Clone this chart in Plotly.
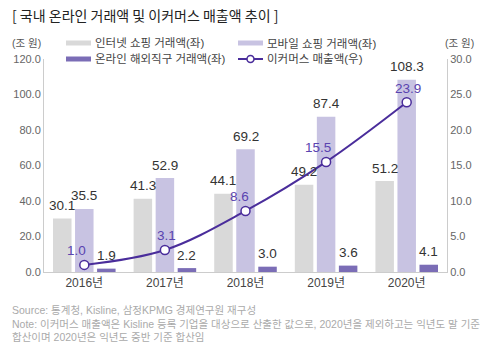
import plotly.graph_objects as go

years = ["2016년", "2017년", "2018년", "2019년", "2020년"]
internet = [30.1, 41.3, 44.1, 49.2, 51.2]
mobile = [35.5, 52.9, 69.2, 87.4, 108.3]
overseas = [1.9, 2.2, 3.0, 3.6, 4.1]
ecommerce = [1.0, 3.1, 8.6, 15.5, 23.9]

names = ["인터넷 쇼핑 거래액(좌)", "모바일 쇼핑 거래액(좌)", "온라인 해외직구 거래액(좌)", "이커머스 매출액(우)"]
left_ticks = [0, 20, 40, 60, 80, 100, 120]
right_ticks = [0, 5, 10, 15, 20, 25, 30]

c_int = "#d9d9d9"
c_mob = "#c8c3e2"
c_ovs = "#7b6db6"
c_line = "#4a2d9b"
FONT = "Liberation Sans, Noto Sans CJK KR"
KFONT = "Noto Sans CJK KR"

W, H = 483, 347
ML, MR, MT, MB = 44, 36, 59, 75
PW, PH = W - ML - MR, H - MT - MB
BARGAP = 0.18


def px(x):
    return (x - ML) / PW


def py(y):
    return (H - MB - y) / PH


fig = go.Figure()
series = [(internet, c_int, names[0]), (mobile, c_mob, names[1]), (overseas, c_ovs, names[2])]
slot = PW / len(years) * (1 - BARGAP) / len(series)
for k, (vals, col, nm) in enumerate(series):
    fig.add_trace(go.Bar(
        x=years, y=vals, name=nm, marker=dict(color=col, line=dict(width=0)),
        showlegend=False,
    ))
    for yr, v in zip(years, vals):
        fig.add_annotation(x=yr, y=v, text=f"{v:.1f}", showarrow=False, yanchor="middle",
                           xshift=(k - 1) * slot, yshift=13,
                           font=dict(size=13.5, color="#333333", family=FONT))

fig.add_trace(go.Scatter(
    x=years, y=ecommerce, yaxis="y2", mode="lines+markers", name=names[3],
    line=dict(color=c_line, width=2, shape="spline", smoothing=1.0),
    marker=dict(size=9, color="white", line=dict(color=c_line, width=1.5)),
    cliponaxis=False, showlegend=False,
))

label_dx = [-8, 2, -6, -8, 1]
for yr, v, dx in zip(years, ecommerce, label_dx):
    fig.add_annotation(x=yr, y=v, yref="y2", text=f"{v:.1f}", showarrow=False, yanchor="middle",
                       xshift=dx, yshift=14, font=dict(size=13.5, color="#5a44b0", family=FONT))

axis_common = dict(showgrid=False, zeroline=False, showline=True, linecolor="#cccccc", linewidth=1,
                   ticks="", tickfont=dict(size=11, color="#666666", family=FONT))

fig.update_layout(
    width=W, height=H, margin=dict(l=ML, r=MR, t=MT, b=MB),
    paper_bgcolor="white", plot_bgcolor="white",
    barmode="group", bargap=BARGAP, bargroupgap=0.16,
    font=dict(family=FONT),
    xaxis=dict(showgrid=False, zeroline=False, showline=True, linecolor="#cccccc", linewidth=1,
               ticks="", tickfont=dict(size=12, color="#444444", family=FONT)),
    yaxis=dict(range=[0, 120], tickvals=left_ticks, tickformat=".1f", **axis_common),
    yaxis2=dict(range=[0, 30], tickvals=right_ticks, tickformat=".1f", overlaying="y", side="right",
                **axis_common),
    showlegend=False,
)

# title
fig.add_annotation(xref="paper", yref="paper", x=px(10), y=py(15), xanchor="left", yanchor="middle",
                   text="[ 국내 온라인 거래액 및 이커머스 매출액 추이 ]", showarrow=False,
                   font=dict(size=14, color="#222222", family=KFONT))
# axis units
fig.add_annotation(xref="paper", yref="paper", x=px(10), y=py(43), xanchor="left", yanchor="middle",
                   text="(조 원)", showarrow=False, font=dict(size=10.5, color="#555555", family=FONT))
fig.add_annotation(xref="paper", yref="paper", x=px(476), y=py(43), xanchor="right", yanchor="middle",
                   text="(조 원)", showarrow=False, font=dict(size=10.5, color="#555555", family=FONT))

# manual legend
leg = [(66, 43, c_int, names[0], "bar"), (238, 43, c_mob, names[1], "bar"),
       (66, 59, c_ovs, names[2], "bar"), (238, 59, c_line, names[3], "line")]
for lx, ly, col, nm, kind in leg:
    if kind == "bar":
        fig.add_shape(type="rect", xref="paper", yref="paper", x0=px(lx), x1=px(lx + 25),
                      y0=py(ly + 2.5), y1=py(ly - 2.5), fillcolor=col, line=dict(width=0))
    else:
        fig.add_shape(type="line", xref="paper", yref="paper", x0=px(lx), x1=px(lx + 25),
                      y0=py(ly), y1=py(ly), line=dict(color=col, width=2))
        fig.add_shape(type="circle", xref="paper", yref="paper", x0=px(lx + 9), x1=px(lx + 16),
                      y0=py(ly + 3.5), y1=py(ly - 3.5), fillcolor="white", line=dict(color=col, width=1.5))
    fig.add_annotation(xref="paper", yref="paper", x=px(lx + 27), y=py(ly), xanchor="left", yanchor="middle",
                       text=nm, showarrow=False, font=dict(size=11.5, color="#444444", family=FONT))

notes = ["Source: 통계청, Kisline, 삼정KPMG 경제연구원 재구성",
         "Note: 이커머스 매출액은 Kisline 등록 기업을 대상으로 산출한 값으로, 2020년을 제외하고는 익년도 말 기준",
         "합산이며 2020년은 익년도 중반 기준 합산임"]
fig.add_annotation(xref="paper", yref="paper", x=px(10), y=py(323.5), xanchor="left", yanchor="middle",
                   align="left", text="<br>".join(notes), showarrow=False,
                   font=dict(size=10.5, color="#aaaaaa", family=FONT))

fig.write_html("out.html")
